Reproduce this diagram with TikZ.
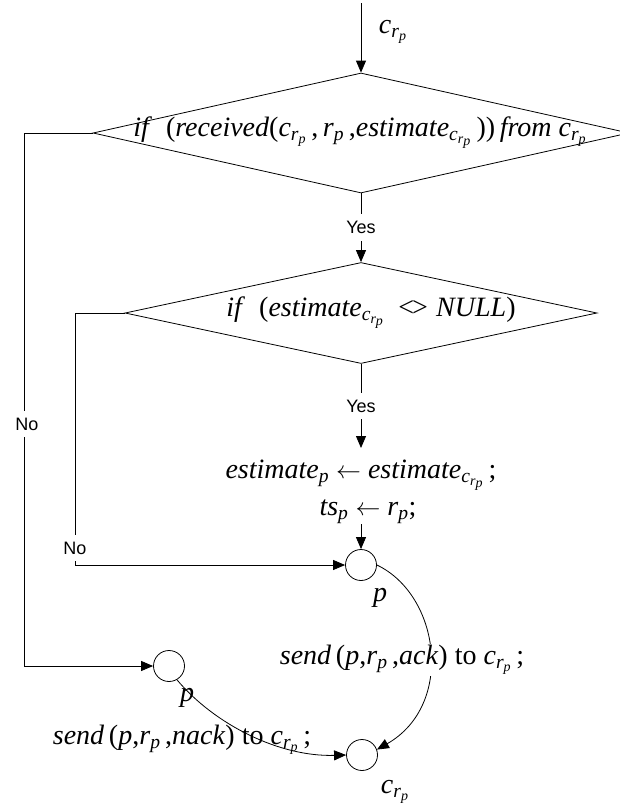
\documentclass[tikz,border=0pt]{standalone}
\usepackage{amsmath}
\usepackage{fontspec}
\setmainfont{Liberation Serif}
\newfontfamily\lsans{Liberation Sans}
\usetikzlibrary{shapes.geometric,arrows.meta}
\newcommand{\mi}[1]{\textit{#1}}
\newcommand{\subs}[1]{\ensuremath{{}_{#1}}}
\newcommand{\rp}{\mi{r}\subs{\mi{p}}}
\newcommand{\crp}{\mi{c}\subs{\mi{r}\subs{\mi{p}}}}
\begin{document}
\begin{tikzpicture}[x=1pt,y=-1pt,
  ln/.style={line width=0.8pt},
  arr/.style={line width=0.8pt,-{Triangle[length=12pt,width=10pt]}},
  dia/.style={draw,diamond,inner sep=0pt,line width=0.8pt},
  mt/.style={inner sep=0pt,font=\fontsize{28}{32}\selectfont},
  yn/.style={font=\lsans\fontsize{18}{20}\selectfont,fill=white,inner xsep=2pt,inner ysep=7pt},
  circ/.style={draw,circle,minimum size=31pt,inner sep=0pt,line width=0.8pt}]
\useasboundingbox (0,0) rectangle (620,809);
% top
\coordinate (top) at (361,3);
\node[mt] (lc) at (393,32) {\crp};
% decisions
\node[dia,minimum width=536pt,minimum height=120pt] (d1) at (361,133) {};
\node[mt] (t1) at (360,133) {\mi{if}\hspace{0.5em}(\mi{received}(\crp\,,\,\rp\,,\mi{estimate}\subs{\mi{c}\subs{\mi{r}\subs{\mi{p}}}}\,))\,\mi{from}\ \crp};
\node[dia,minimum width=472pt,minimum height=101pt] (d2) at (361,313) {};
\node[mt] (t2) at (371,313) {\mi{if}\hspace{0.5em}(\mi{estimate}\subs{\mi{c}\subs{\mi{r}\subs{\mi{p}}}}\hspace{0.5em}<\kern-0.08em>\hspace{0.3em}\mi{NULL})};
% assignments
\node[mt] (t3) at (361,475) {\mi{estimate}\subs{\mi{p}} $\leftarrow$ \mi{estimate}\subs{\mi{c}\subs{\mi{r}\subs{\mi{p}}}}\,;};
\node[mt] (t4) at (368,512) {\mi{ts}\subs{\mi{p}} $\leftarrow$ \rp;};
% circles
\node[circ] (p1) at (361,565) {};
\node[circ] (p2) at (169,666) {};
\node[circ] (cc) at (362,755) {};
\node[mt] (lp1) at (380,598) {\mi{p}};
\node[mt] (lp2) at (187,698) {\mi{p}};
\node[mt] (lc2) at (395,792) {\crp};
% connectors
\draw[arr] (top) -- (d1.north);
\draw[arr] (d1.south) -- node[yn] (y1) {Yes} (d2.north);
\coordinate (a2) at (361,448);
\draw[arr] (d2.south) -- node[yn] (y2) {Yes} (a2);
\draw[arr] (t4.south -| p1.north) -- (p1.north);
\coordinate (n2c) at (75,565);
\draw[arr] (d2.west) -| (n2c) -- (p1.west);
\node[yn] (no2) at (75,548) {No};
\coordinate (n1c) at (24,666);
\draw[arr] (d1.west) -| (n1c) -- (p2.west);
\node[yn] (no1) at (27,424) {No};
\draw[arr] (p1.east) .. controls (440,595) and (455,705) .. (cc.20);
\node[mt,fill=white,inner sep=1pt] (sa) at (402,660) {\mi{send}\,(\mi{p},\rp\,,\mi{ack}) to \crp\,;};
\draw[arr] (p2.-60) .. controls (215,725) and (280,757) .. (cc.west);
\node[mt] (sn) at (182,740) {\mi{send}\,(\mi{p},\rp\,,\mi{nack}) to \crp\,;};
\end{tikzpicture}
\end{document}
